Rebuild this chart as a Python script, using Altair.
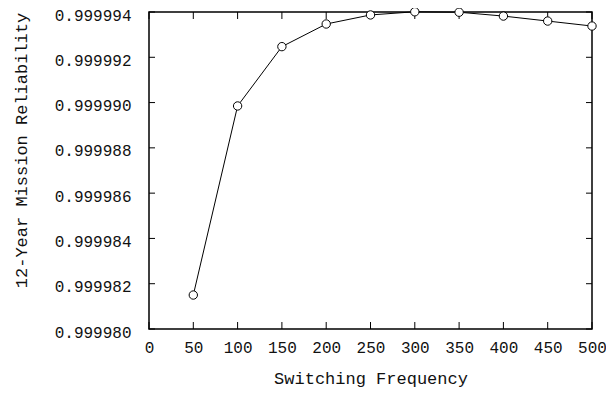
import altair as alt
import pandas as pd

# Data
freq = [50, 100, 150, 200, 250, 300, 350, 400, 450, 500]
reliability = [0.9999815, 0.99998985, 0.99999247, 0.99999347, 0.99999387,
               0.99999401, 0.99999399, 0.99999382, 0.99999360, 0.99999338]
x_ticks = [0, 50, 100, 150, 200, 250, 300, 350, 400, 450, 500]
y_ticks = [0.999980, 0.999982, 0.999984, 0.999986, 0.999988,
           0.999990, 0.999992, 0.999994]

W, H = 443, 317
FONT = "Liberation Mono"
FS = 16
TFS = 17
TXT = "#111111"

df = pd.DataFrame({"f": freq, "r": reliability})
xt = pd.DataFrame({"t": x_ticks})
yt = pd.DataFrame({"v": y_ticks})

xscale = alt.Scale(domain=[0, 500], nice=False, zero=False)
yscale = alt.Scale(domain=[0.999980, 0.999994], nice=False, zero=False)

xaxis = alt.Axis(values=x_ticks, title="Switching Frequency", format="d",
                 ticks=False, tickSize=0, domain=False, grid=False,
                 labelFlush=False, labelOverlap=False,
                 labelPadding=10, labelFont=FONT, labelFontSize=FS,
                 labelColor=TXT, titleFont=FONT, titleFontSize=TFS,
                 titleFontWeight="normal", titleColor=TXT, titlePadding=15)
yaxis = alt.Axis(values=y_ticks, title="12-Year Mission Reliability", format=".6f",
                 ticks=False, tickSize=0, domain=False, grid=False,
                 labelFlush=False, labelOverlap=False, labelOffset=3,
                 labelPadding=18, labelFont=FONT, labelFontSize=FS,
                 labelColor=TXT, titleFont=FONT, titleFontSize=TFS,
                 titleFontWeight="normal", titleColor=TXT,
                 titleX=-128, titleY=138, titleAlign="center", titleBaseline="middle",
                 titleAngle=270)

line = alt.Chart(df).mark_line(color="black", strokeWidth=1).encode(
    x=alt.X("f:Q", scale=xscale, axis=xaxis),
    y=alt.Y("r:Q", scale=yscale, axis=yaxis),
)
pts = alt.Chart(df).mark_point(shape="circle", filled=True, fill="white",
                               stroke="black", strokeWidth=1, size=70, opacity=1).encode(
    x=alt.X("f:Q", scale=xscale),
    y=alt.Y("r:Q", scale=yscale),
)

top_ticks = alt.Chart(xt).mark_rule(color="black", strokeWidth=1).encode(
    x=alt.X("t:Q", scale=xscale), y=alt.value(0), y2=alt.value(7))
bot_ticks = alt.Chart(xt).mark_rule(color="black", strokeWidth=1).encode(
    x=alt.X("t:Q", scale=xscale), y=alt.value(H), y2=alt.value(H - 7))
left_ticks = alt.Chart(yt).mark_rule(color="black", strokeWidth=1).encode(
    y=alt.Y("v:Q", scale=yscale), x=alt.value(0), x2=alt.value(6))
right_ticks = alt.Chart(yt).mark_rule(color="black", strokeWidth=1).encode(
    y=alt.Y("v:Q", scale=yscale), x=alt.value(W), x2=alt.value(W - 6))

chart = alt.layer(top_ticks, bot_ticks, left_ticks, right_ticks, line, pts).properties(
    width=W, height=H,
    autosize=alt.AutoSizeParams(type="none"),
    padding={"left": 141, "top": 4, "right": 14, "bottom": 62},
    background="white",
).configure_view(stroke="black", strokeWidth=1.5)

chart.save("out.html", embed_options={"renderer": "svg", "actions": False})
